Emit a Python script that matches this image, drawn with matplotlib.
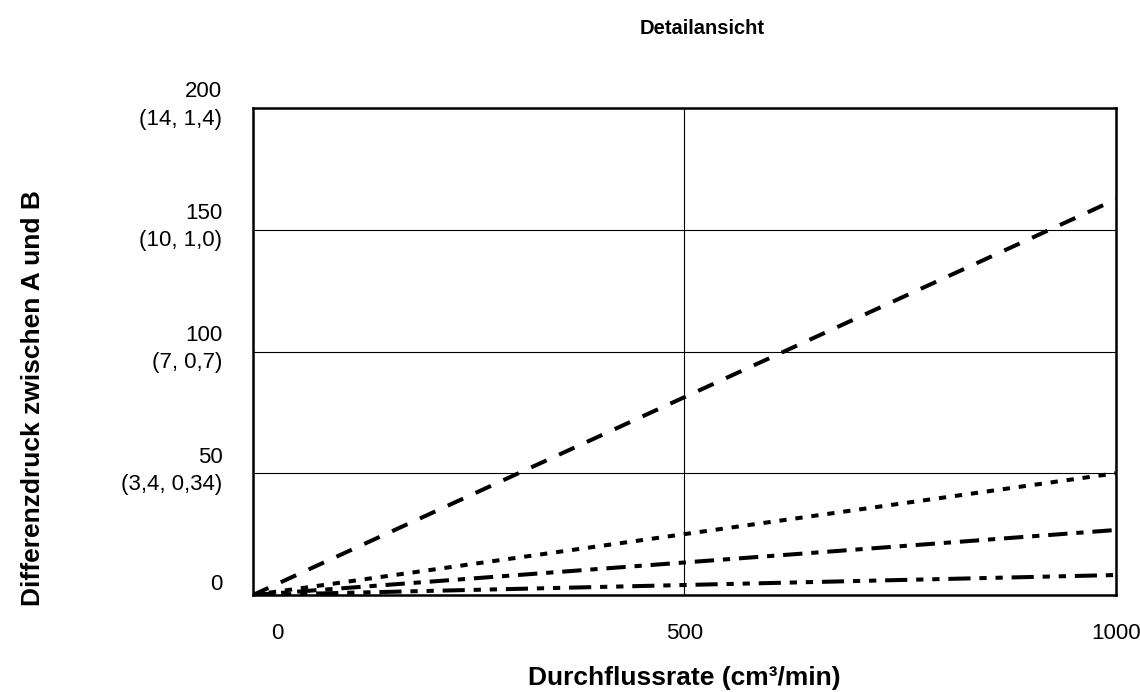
import matplotlib.pyplot as plt
from matplotlib.transforms import ScaledTranslation

plt.rcParams['font.family'] = ['Liberation Sans', 'DejaVu Sans']

# Flow rate and pressure difference for the four curves
flow = [0, 1000]
p_dashed = [0, 162.5]
p_dotted = [0, 50]
p_dashdot = [0, 26.7]
p_dashdotdot = [0, 8.2]

y_ticks = [0, 50, 100, 150, 200]
y_labels = ['0', '50\n(3,4, 0,34)', '100\n(7, 0,7)', '150\n(10, 1,0)', '200\n(14, 1,4)']
x_ticks = [0, 500, 1000]
x_labels = ['0', '500', '1000']

fig = plt.figure(figsize=(11.4, 6.92), dpi=100)
ax = fig.add_axes([0.2219, 0.1402, 0.7570, 0.7037])

lw = 2.9
ax.plot(flow, p_dashed, color='black', lw=lw, dashes=(4.2, 3.4))
ax.plot(flow, p_dotted, color='black', lw=lw, dashes=(1.8, 2.2))
ax.plot(flow, p_dashdot, color='black', lw=lw, dashes=(4.8, 2.2, 1.8, 2.2))
ax.plot(flow, p_dashdotdot, color='black', lw=lw, dashes=(5.5, 2.2, 1.8, 2.2, 1.8, 2.2))

ax.set_xlim(0, 1000)
ax.set_ylim(0, 200)
ax.set_xticks(x_ticks)
ax.set_xticklabels(x_labels, fontsize=16)
ax.set_yticks(y_ticks)
ax.set_yticklabels(y_labels, fontsize=16, multialignment='right', linespacing=1.4, va='center')
ax.tick_params(axis='both', length=0)
ax.tick_params(axis='y', pad=22)
ax.tick_params(axis='x', pad=20)

# nudge tick labels: the x "0" sits right of the corner, y labels ride a bit high
def nudge(label, dx, dy):
    label.set_transform(label.get_transform() + ScaledTranslation(dx / 100, dy / 100, fig.dpi_scale_trans))

nudge(ax.get_xticklabels()[0], 24, 0)
for i, lbl in enumerate(ax.get_yticklabels()):
    nudge(lbl, 0, 10 if i == 0 else 2.5)

ax.grid(True, color='black', lw=0.8)
ax.set_axisbelow(True)
for s in ax.spines.values():
    s.set_linewidth(1.8)

ax.set_title('Detailansicht', fontsize=14.5, fontweight='bold', pad=53, x=0.52)
ax.set_xlabel('Durchflussrate (cm³/min)', fontsize=19, fontweight='bold')
ax.set_ylabel('Differenzdruck zwischen A und B', fontsize=19, fontweight='bold')
ax.xaxis.set_label_coords(0.5, -0.145)
ax.yaxis.set_label_coords(-0.241, 0.405)

fig.savefig('out.png', dpi=100)
